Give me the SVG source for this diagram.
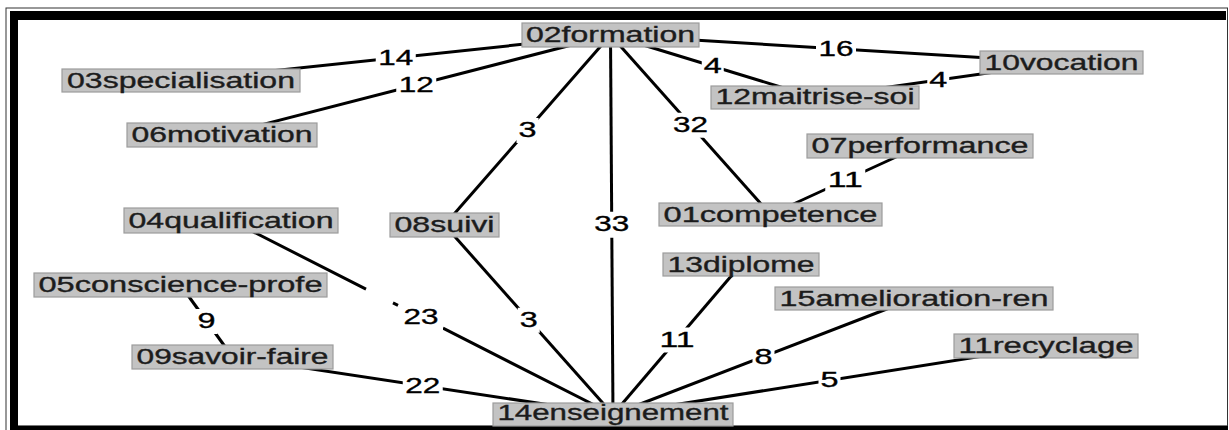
<svg xmlns="http://www.w3.org/2000/svg" width="1229" height="430" viewBox="0 0 1229 430">
<style>
.n rect{fill:#c3c3c3;stroke:#9c9c9c;stroke-width:1.2}
.n text{font-family:"Liberation Sans",Arial,sans-serif;font-size:21.5px;fill:#1c1c1c;stroke:#1c1c1c;stroke-width:0.35;text-anchor:middle}
.e line,.e path{stroke:#000;stroke-width:3;fill:none}
.l rect{fill:#fff}
.l text{font-family:"Liberation Sans",Arial,sans-serif;font-size:21.5px;fill:#000;stroke:#000;stroke-width:0.35;text-anchor:middle}
</style>
<rect width="1229" height="430" fill="#fff"/>
<g id="frame">
<rect x="6" y="8" width="1221.5" height="430" fill="none" stroke="#333" stroke-width="1"/>
<rect x="10" y="11" width="1216" height="9" fill="#000"/>
<rect x="10" y="11" width="8" height="419" fill="#000"/>
<line x1="18" y1="425.5" x2="1227" y2="425.5" stroke="#777" stroke-width="1"/>
<rect x="10" y="426" width="1218" height="4" fill="#000"/>
</g>
<g id="connectors">
<g class="e">
<line x1="610.5" y1="35" x2="181" y2="80.5"/>
<line x1="610.5" y1="35" x2="222" y2="135"/>
<line x1="610.5" y1="35" x2="444.5" y2="225"/>
<line x1="610.5" y1="35" x2="613" y2="414.5"/>
<line x1="610.5" y1="35" x2="770.5" y2="214.5"/>
<line x1="610.5" y1="35" x2="815" y2="97.5"/>
<line x1="610.5" y1="35" x2="1061.5" y2="62.5"/>
<line x1="815" y1="97.5" x2="1061.5" y2="62.5"/>
<line x1="920" y1="146" x2="770.5" y2="214.5"/>
<line x1="180.5" y1="285" x2="232.5" y2="357"/>
<path d="M231,220.5 L366,289.1 M393,302.8 L398,305.3 M443,328.2 L613,414.5"/>
<line x1="444.5" y1="225" x2="613" y2="414.5"/>
<line x1="741" y1="264.5" x2="613" y2="414.5"/>
<line x1="914" y1="298.5" x2="613" y2="414.5"/>
<line x1="1046" y1="346" x2="613" y2="414.5"/>
<line x1="232.5" y1="357" x2="613" y2="414.5"/>
</g>
<g class="l">
<rect x="375.75" y="45.75" width="40" height="25"/><text x="395.75" y="64.75" textLength="35" lengthAdjust="spacingAndGlyphs">14</text>
<rect x="396.25" y="73" width="40" height="25"/><text x="416.25" y="92" textLength="35" lengthAdjust="spacingAndGlyphs">12</text>
<rect x="516.5" y="118" width="22" height="25"/><text x="527.5" y="137" textLength="18" lengthAdjust="spacingAndGlyphs">3</text>
<rect x="591.75" y="211.75" width="40" height="26"/><text x="611.75" y="231.25" textLength="35" lengthAdjust="spacingAndGlyphs">33</text>
<rect x="670.5" y="112.75" width="40" height="25"/><text x="690.5" y="131.75" textLength="35" lengthAdjust="spacingAndGlyphs">32</text>
<rect x="701.75" y="54.25" width="22" height="25"/><text x="712.75" y="73.25" textLength="18" lengthAdjust="spacingAndGlyphs">4</text>
<rect x="816" y="36.75" width="40" height="25"/><text x="836" y="55.75" textLength="35" lengthAdjust="spacingAndGlyphs">16</text>
<rect x="927.25" y="68" width="22" height="25"/><text x="938.25" y="87" textLength="18" lengthAdjust="spacingAndGlyphs">4</text>
<rect x="825.25" y="168.25" width="40" height="25"/><text x="845.25" y="187.25" textLength="35" lengthAdjust="spacingAndGlyphs">11</text>
<rect x="195.5" y="309" width="22" height="25"/><text x="206.5" y="328" textLength="18" lengthAdjust="spacingAndGlyphs">9</text>
<rect x="401" y="305.5" width="42" height="25"/><text x="421" y="323.5" textLength="35" lengthAdjust="spacingAndGlyphs">23</text>
<rect x="517.75" y="307.75" width="22" height="25"/><text x="528.75" y="326.75" textLength="18" lengthAdjust="spacingAndGlyphs">3</text>
<rect x="657" y="327.5" width="40" height="25"/><text x="677" y="346.5" textLength="35" lengthAdjust="spacingAndGlyphs">11</text>
<rect x="752.5" y="344.5" width="22" height="25"/><text x="763.5" y="363.5" textLength="18" lengthAdjust="spacingAndGlyphs">8</text>
<rect x="818.5" y="368.25" width="22" height="25"/><text x="829.5" y="387.25" textLength="18" lengthAdjust="spacingAndGlyphs">5</text>
<rect x="402.75" y="373.75" width="40" height="25"/><text x="422.75" y="392.75" textLength="35" lengthAdjust="spacingAndGlyphs">22</text>
</g>
</g>
<g id="n02" class="n"><rect x="522" y="23" width="177" height="24"/><text x="610.5" y="42" textLength="169" lengthAdjust="spacingAndGlyphs">02formation</text></g>
<g id="n03" class="n"><rect x="62" y="69" width="238" height="23"/><text x="181" y="87.5" textLength="228" lengthAdjust="spacingAndGlyphs">03specialisation</text></g>
<g id="n06" class="n"><rect x="127" y="123" width="190" height="24"/><text x="222" y="142" textLength="181" lengthAdjust="spacingAndGlyphs">06motivation</text></g>
<g id="n10" class="n"><rect x="980" y="51" width="163" height="23"/><text x="1061.5" y="69.5" textLength="154" lengthAdjust="spacingAndGlyphs">10vocation</text></g>
<g id="n12" class="n"><rect x="711" y="86" width="208" height="23"/><text x="815" y="104" textLength="199" lengthAdjust="spacingAndGlyphs">12maitrise-soi</text></g>
<g id="n07" class="n"><rect x="807" y="134" width="226" height="24"/><text x="920" y="153" textLength="217" lengthAdjust="spacingAndGlyphs">07performance</text></g>
<g id="n01" class="n"><rect x="659" y="203" width="223" height="23"/><text x="770.5" y="221.5" textLength="214" lengthAdjust="spacingAndGlyphs">01competence</text></g>
<g id="n13" class="n"><rect x="663" y="253" width="156" height="23"/><text x="741" y="271.5" textLength="147" lengthAdjust="spacingAndGlyphs">13diplome</text></g>
<g id="n15" class="n"><rect x="775" y="287" width="278" height="23"/><text x="914" y="305.5" textLength="269" lengthAdjust="spacingAndGlyphs">15amelioration-ren</text></g>
<g id="n11" class="n"><rect x="954" y="334" width="184" height="24"/><text x="1046" y="353" textLength="175" lengthAdjust="spacingAndGlyphs">11recyclage</text></g>
<g id="n08" class="n"><rect x="390" y="213" width="109" height="24"/><text x="444.5" y="232" textLength="100" lengthAdjust="spacingAndGlyphs">08suivi</text></g>
<g id="n04" class="n"><rect x="124" y="208" width="214" height="25"/><text x="231" y="227.5" textLength="205" lengthAdjust="spacingAndGlyphs">04qualification</text></g>
<g id="n05" class="n"><rect x="34" y="273" width="293" height="24"/><text x="180.5" y="292" textLength="284" lengthAdjust="spacingAndGlyphs">05conscience-profe</text></g>
<g id="n09" class="n"><rect x="132" y="345" width="201" height="24"/><text x="232.5" y="364" textLength="192" lengthAdjust="spacingAndGlyphs">09savoir-faire</text></g>
<g id="n14" class="n"><rect x="493" y="403" width="240" height="23"/><text x="613" y="419.5" textLength="231" lengthAdjust="spacingAndGlyphs">14enseignement</text></g>
</svg>
